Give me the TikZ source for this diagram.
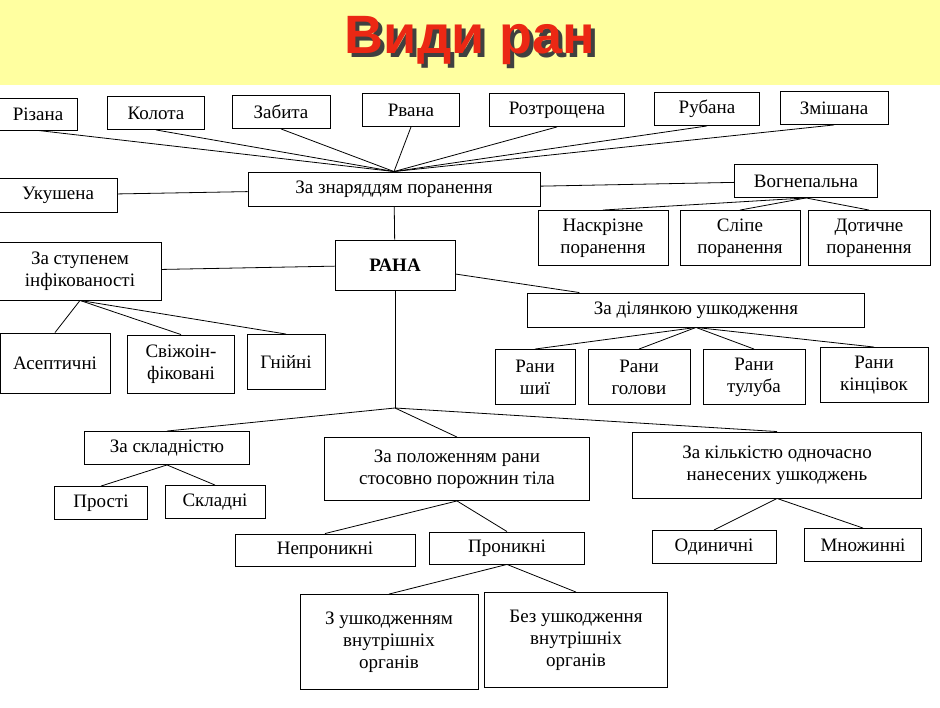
\documentclass[tikz,border=0pt]{standalone}
\usepackage{fontspec}
\setmainfont{Liberation Serif}
\newfontfamily\titlefont{Liberation Sans}
\usetikzlibrary{positioning}
\definecolor{barfill}{RGB}{255,255,160}
\definecolor{titlered}{RGB}{235,40,20}
\tikzset{
  box/.style={draw, line width=0.9pt, inner sep=2pt, align=center,
    font=\fontsize{19}{22}\selectfont},
  link/.style={line width=0.8pt}
}
\begin{document}
\begin{tikzpicture}[x=1pt,y=-1pt]
\useasboundingbox (0,0) rectangle (940,708);
\fill[white] (0,0) rectangle (940,708);
\fill[barfill] (0,0) rectangle (940,85);
% title
\node[font=\titlefont\bfseries\fontsize{54}{58}\selectfont, text=black!75] at (474,45) {Види ран};
\node (title) [font=\titlefont\bfseries\fontsize{54}{58}\selectfont, text=titlered] at (470,41) {Види ран};

% first level
\node (rana) [box, minimum width=120, minimum height=50, font=\bfseries\fontsize{19}{22}\selectfont] at (395,265) {РАНА};
\node (tool) [box, minimum width=292, minimum height=34] at (394,189) {За знаряддям поранення};
\node (infect) [box, minimum width=163, minimum height=58] at (80,271) {За ступенем\\інфікованості};
\node (area) [box, minimum width=337, minimum height=34] at (696,310) {За ділянкою ушкодження};
\node (compl) [box, minimum width=165, minimum height=33] at (167,448) {За складністю};
\node (pos) [box, minimum width=265, minimum height=63] at (457,469) {За положенням рани\\стосовно порожнин тіла};
\node (count) [box, minimum width=289, minimum height=66] at (777,465) {За кількістю одночасно\\нанесених ушкоджень};

% by tool
\node (cut) [box, minimum width=78, minimum height=32] at (38,114) {Різана};
\node (stab) [box, minimum width=97, minimum height=33] at (156,113) {Колота};
\node (bruise) [box, minimum width=98, minimum height=33] at (281,112) {Забита};
\node (torn) [box, minimum width=97, minimum height=33] at (411,110) {Рвана};
\node (crush) [box, minimum width=135, minimum height=33] at (557,110) {Розтрощена};
\node (chop) [box, minimum width=105, minimum height=33] at (707,109) {Рубана};
\node (mixed) [box, minimum width=108, minimum height=33] at (834,108) {Змішана};
\node (bite) [box, minimum width=118, minimum height=34] at (58,195) {Укушена};
\node (gun) [box, minimum width=143, minimum height=33] at (806,181) {Вогнепальна};
\node (thru) [box, minimum width=130, minimum height=55] at (603,238) {Наскрізне\\поранення};
\node (blind) [box, minimum width=120, minimum height=55] at (740,238) {Сліпе\\поранення};
\node (tang) [box, minimum width=122, minimum height=55] at (869,238) {Дотичне\\поранення};

% by infection
\node (asep) [box, minimum width=110, minimum height=60] at (55,363) {Асептичні};
\node (fresh) [box, minimum width=107, minimum height=58] at (181,364) {Свіжоін-\\фіковані};
\node (pur) [box, minimum width=78, minimum height=55] at (286,362) {Гнійні};

% by area
\node (neck) [box, minimum width=80, minimum height=55] at (535,377) {Рани\\шиї};
\node (head) [box, minimum width=102, minimum height=55] at (639,377) {Рани\\голови};
\node (trunk) [box, minimum width=102, minimum height=55] at (754,377) {Рани\\тулуба};
\node (limb) [box, minimum width=108, minimum height=55] at (874,375) {Рани\\кінцівок};

% lower levels
\node (simple) [box, minimum width=93, minimum height=33] at (101,503) {Прості};
\node (complex) [box, minimum width=100, minimum height=33] at (215,502) {Складні};
\node (nonpen) [box, minimum width=180, minimum height=32] at (325,550) {Непроникні};
\node (pen) [box, minimum width=155, minimum height=32] at (507,548) {Проникні};
\node (single) [box, minimum width=124, minimum height=33] at (714,547) {Одиничні};
\node (multi) [box, minimum width=117, minimum height=33] at (863,545) {Множинні};
\node (withorg) [box, minimum width=178, minimum height=95] at (389,642) {З ушкодженням\\внутрішніх\\органів};
\node (noorg) [box, minimum width=183, minimum height=95] at (576,640) {Без ушкодження\\внутрішніх\\органів};

\coordinate (hub) at (395,408);

% connectors
\foreach \n in {cut,stab,bruise,torn,crush,chop,mixed}
  \draw[link] (\n.south) -- (tool.north);
\draw[link] (bite) -- (tool);
\draw[link] (gun) -- (tool);
\foreach \n in {thru,blind,tang}
  \draw[link] (gun.south) -- (\n.north);
\draw[link] (rana) -- (tool);
\draw[link] (rana) -- (infect);
\draw[link] (rana) -- (area);
\foreach \n in {asep,fresh,pur}
  \draw[link] (infect.south) -- (\n.north);
\foreach \n in {neck,head,trunk,limb}
  \draw[link] (area.south) -- (\n.north);
\draw[link] (rana) -- (hub);
\foreach \n in {compl,pos,count}
  \draw[link] (hub) -- (\n.north);
\foreach \n in {simple,complex}
  \draw[link] (compl.south) -- (\n.north);
\foreach \n in {nonpen,pen}
  \draw[link] (pos.south) -- (\n.north);
\foreach \n in {single,multi}
  \draw[link] (count.south) -- (\n.north);
\foreach \n in {withorg,noorg}
  \draw[link] (pen.south) -- (\n.north);
\end{tikzpicture}
\end{document}
